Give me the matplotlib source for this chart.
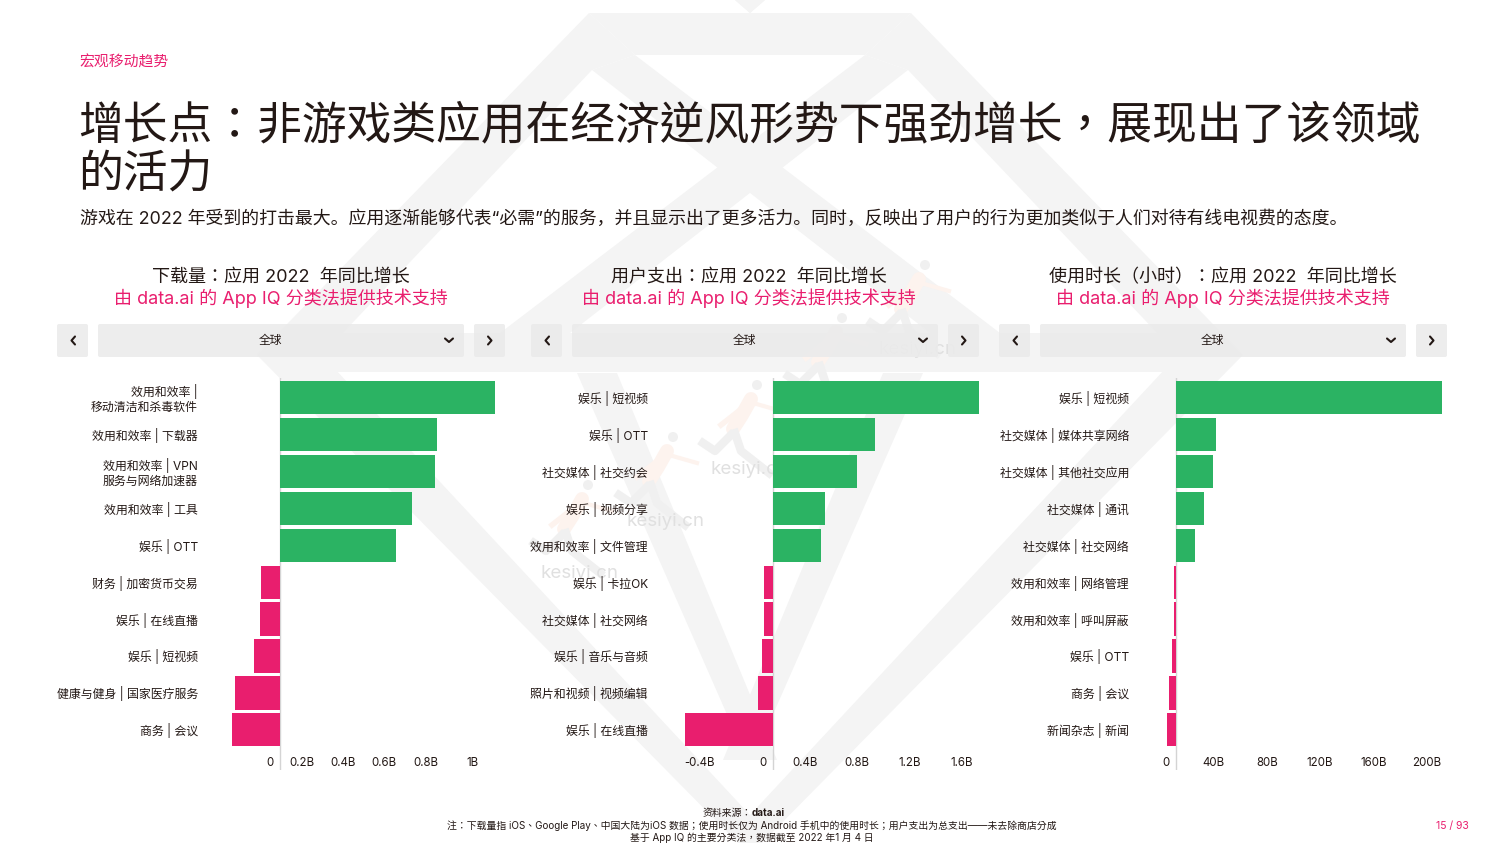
import matplotlib
matplotlib.use("Agg")
import matplotlib.pyplot as plt
from matplotlib.patches import Polygon, FancyBboxPatch, Circle
from matplotlib.transforms import ScaledTranslation

W, H = 1499, 843
SC = ['Inter', 'Noto Sans CJK SC', 'DejaVu Sans']
TC = ['Inter', 'Noto Sans CJK TC', 'DejaVu Sans']  # TC has the centred ：and ，of the reference
plt.rcParams['font.family'] = SC

GREEN = '#2bb363'
PINK = '#e91e6e'
DARK = '#231815'
BAND = '#f4f4f4'

titles = ['下载量：应用 2022  年同比增长', '用户支出：应用 2022  年同比增长', '使用时长（小时）：应用 2022  年同比增长']
subtitle = '由 data.ai 的 App IQ 分类法提供技术支持'

cats1 = ['效用和效率 |\n移动清洁和杀毒软件', '效用和效率 | 下载器', '效用和效率 | VPN\n服务与网络加速器', '效用和效率 | 工具', '娱乐 | OTT',
         '财务 | 加密货币交易', '娱乐 | 在线直播', '娱乐 | 短视频', '健康与健身 | 国家医疗服务', '商务 | 会议']
vals1 = [1.05, 0.766, 0.756, 0.644, 0.566, -0.093, -0.098, -0.127, -0.22, -0.234]
ticks1 = [0, 0.2, 0.4, 0.6, 0.8, 1.0]
ticklabels1 = ['0', '0.2B', '0.4B', '0.6B', '0.8B', '1B']

cats2 = ['娱乐 | 短视频', '娱乐 | OTT', '社交媒体 | 社交约会', '娱乐 | 视频分享', '效用和效率 | 文件管理',
         '娱乐 | 卡拉OK', '社交媒体 | 社交网络', '娱乐 | 音乐与音频', '照片和视频 | 视频编辑', '娱乐 | 在线直播']
vals2 = [1.604, 0.796, 0.656, 0.408, 0.38, -0.066, -0.066, -0.082, -0.113, -0.68]
ticks2 = [-0.4, 0, 0.4, 0.8, 1.2, 1.6]
ticklabels2 = ['-0.4B', '0', '0.4B', '0.8B', '1.2B', '1.6B']

cats3 = ['娱乐 | 短视频', '社交媒体 | 媒体共享网络', '社交媒体 | 其他社交应用', '社交媒体 | 通讯', '社交媒体 | 社交网络',
         '效用和效率 | 网络管理', '效用和效率 | 呼叫屏蔽', '娱乐 | OTT', '商务 | 会议', '新闻杂志 | 新闻']
vals3 = [196, 29.5, 27.6, 20.6, 14, -1.5, -1.8, -3, -5.5, -6.3]
ticks3 = [0, 40, 80, 120, 160, 200]
ticklabels3 = ['0', '40B', '80B', '120B', '160B', '200B']

fig = plt.figure(figsize=(W / 100, H / 100), dpi=100, facecolor='white')

# pixel canvas for everything that is not a chart
bg = fig.add_axes([0, 0, 1, 1], zorder=0)
bg.set_xlim(0, W)
bg.set_ylim(H, 0)
bg.axis('off')


def band(pts):
    # the gem is symmetric around x=750, so every piece is drawn twice
    bg.add_patch(Polygon(pts, closed=True, fc=BAND, ec='none', zorder=0))
    bg.add_patch(Polygon([(1500 - x, y) for x, y in pts], closed=True, fc=BAND, ec='none', zorder=0))


band([(735, 0), (750, 13), (765, 0)])
band([(589, 13), (910, 13), (859, 55), (635, 55)])
band([(589, 13), (635, 55), (592, 70), (322, 355), (257, 355)])
band([(592, 70), (635, 55), (1000, 333), (930, 333)])
band([(257, 355), (320, 333), (1180, 333), (1243, 355), (1200, 372), (300, 372)])
band([(257, 355), (322, 355), (750, 815), (750, 843), (738, 843)])
band([(577, 373), (617, 373), (777, 760), (747, 760)])


def runner(hx, hy):
    # faint watermark figure, head position in pixels
    bg.plot([hx - 6, hx - 15, hx - 24], [hy + 14, hy + 30, hy + 44], color='#fdf3ee', lw=10, zorder=0.5,
            solid_capstyle='round')
    bg.plot([hx - 8, hx - 36], [hy + 18, hy + 40], color='#fdf3ee', lw=4, zorder=0.5)
    bg.plot([hx - 4, hx + 24], [hy + 18, hy + 26], color='#fdf3ee', lw=3, zorder=0.5)
    bg.plot([hx - 22, hx - 16, hx + 12], [hy + 48, hy + 66, hy + 88], color='#f0f0f0', lw=6, zorder=0.5)
    bg.plot([hx - 26, hx - 42, hx - 54], [hy + 50, hy + 66, hy + 58], color='#f0f0f0', lw=6, zorder=0.5)
    bg.add_patch(Circle((hx, hy), 5, fc='#f0f0f0', ec='none', zorder=0.5))


for hx, hy in [(925, 265), (842, 318), (757, 385), (673, 437), (588, 485)]:
    runner(hx, hy)

for x, y in [(918, 349), (750, 470), (666, 522), (580, 574)]:
    bg.text(x, y, 'kesiyi.cn', fontsize=13.5, color='#e0e0e0', va='center', ha='center', zorder=0.6)

bg.text(79.5, 67, '宏观移动趋势', fontsize=10.7, color=PINK, va='baseline')
bg.text(78.5, 138, '增长点：非游戏类应用在经济逆风形势下强劲增长，展现出了该领域', fontsize=32.25, color=DARK, va='baseline',
        weight='light', family=TC)
bg.text(78.5, 187, '的活力', fontsize=32.25, color=DARK, va='baseline', weight='light', family=TC)
bg.text(80, 224, '游戏在 2022 年受到的打击最大。应用逐渐能够代表“必需”的服务，并且显示出了更多活力。同时，反映出了用户的行为更加类似于人们对待有线电视费的态度。',
        fontsize=12.9, color=DARK, va='baseline')

bg.text(752, 813, '资料来源：', fontsize=7.1, color=DARK, va='center', ha='right', family=TC)
bg.text(752, 813, 'data.ai', fontsize=7.1, color=DARK, va='center', ha='left', weight='bold')
bg.text(752, 826, '注：下载量指 iOS、Google Play、中国大陆为iOS 数据；使用时长仅为 Android 手机中的使用时长；用户支出为总支出——未去除商店分成',
        fontsize=7.1, color=DARK, va='center', ha='center', family=TC)
bg.text(752, 838, '基于 App IQ 的主要分类法，数据截至 2022 年1 月 4 日', fontsize=7.1, color=DARK, va='center', ha='center', family=TC)
bg.text(1452, 826, '15 / 93', fontsize=7.5, color=PINK, va='center', ha='center')


def chevron(xs, ys):
    bg.plot(xs, ys, color=DARK, lw=1.5, zorder=2, solid_capstyle='round')


def panel(title, cats, vals, ticks, ticklabels, x_zero, px_per_unit, left, right, head_x, sel_x):
    # header and the fake selector row
    bg.text(head_x, 282, title, fontsize=13, color=DARK, ha='center', va='baseline', family=TC)
    bg.text(head_x, 304, subtitle, fontsize=13, color=PINK, ha='center', va='baseline')
    for x0, x1 in [(sel_x, sel_x + 31), (sel_x + 41, sel_x + 407), (sel_x + 417, sel_x + 448)]:
        bg.add_patch(FancyBboxPatch((x0 + 2, 326), x1 - x0 - 4, 29, boxstyle='round,pad=2',
                                    fc='#ebebeb', ec='none', alpha=0.9, zorder=1))
    bg.text(sel_x + 213, 340.5, '全球', fontsize=8.5, color=DARK, ha='center', va='center')
    chevron([sel_x + 18, sel_x + 14.5, sel_x + 18], [336.5, 340.5, 344.5])
    chevron([sel_x + 431, sel_x + 434.5, sel_x + 431], [336.5, 340.5, 344.5])
    chevron([sel_x + 388, sel_x + 392, sel_x + 396], [338.5, 342, 338.5])

    # axes box is placed so the data scale lands on the same pixels as the reference
    ax = fig.add_axes([left / W, 1 - 770 / H, (right - left) / W, (770 - 378) / H], zorder=2)
    ax.patch.set_alpha(0)
    ax.set_xlim((left - x_zero) / px_per_unit, (right - x_zero) / px_per_unit)
    ax.set_ylim((770 - 397.7) / 36.9, (378 - 397.7) / 36.9)
    y = list(range(len(cats)))
    colors = [GREEN if v >= 0 else PINK for v in vals]
    ax.barh(y, vals, height=0.9, color=colors, zorder=3)
    ax.axvline(0, color='#d4d4d4', lw=1, zorder=2)
    ax.set_yticks(y, cats, fontsize=8.6, color=DARK, linespacing=1.33, ha='right', va='center')
    ax.set_xticks(ticks, ticklabels, fontsize=8.3, color=DARK, ha='right')
    ax.tick_params(axis='both', length=0)
    ax.tick_params(axis='x', pad=-9)
    ax.tick_params(axis='y', pad=1.5)
    # tick_params resets label transforms, so the shifts come after it
    shift = ScaledTranslation(-6 / 100, 0, fig.dpi_scale_trans)
    for lab in ax.get_xticklabels():
        lab.set_transform(lab.get_transform() + shift)
    down = ScaledTranslation(0, -1 / 100, fig.dpi_scale_trans)
    for lab in ax.get_yticklabels():
        lab.set_transform(lab.get_transform() + down)
    for s in ax.spines.values():
        s.set_visible(False)
    return ax


panel(titles[0], cats1, vals1, ticks1, ticklabels1, 280, 205, 200, 500, 280.5, 57)
panel(titles[1], cats2, vals2, ticks2, ticklabels2, 772.5, 128.75, 650, 985, 749, 531)
panel(titles[2], cats3, vals3, ticks3, ticklabels3, 1176, 1.3575, 1131, 1450, 1222.5, 999)

fig.savefig('out.png', dpi=100)
